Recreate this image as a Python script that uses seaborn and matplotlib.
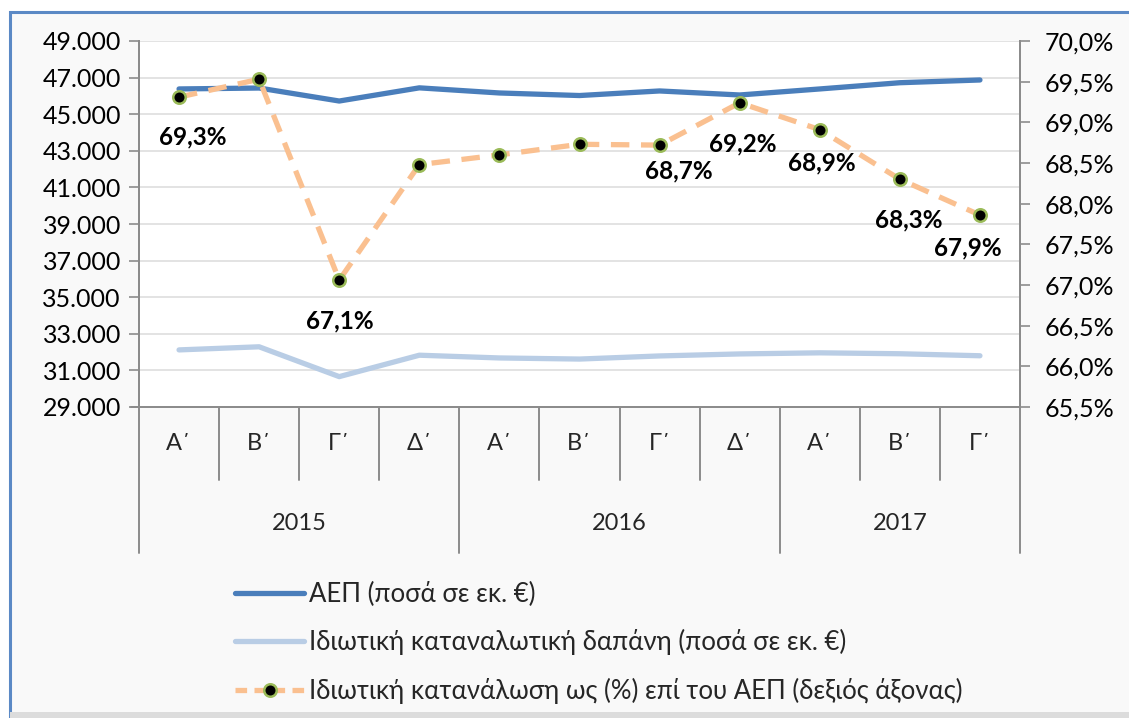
import numpy as np
import pandas as pd
import matplotlib
matplotlib.use("Agg")
import matplotlib.pyplot as plt
import seaborn as sns
from matplotlib.ticker import FuncFormatter, FixedLocator
from matplotlib.patches import Rectangle
from matplotlib.lines import Line2D

# --- data ---
quarters = ["Α΄", "Β΄", "Γ΄", "Δ΄", "Α΄", "Β΄", "Γ΄", "Δ΄", "Α΄", "Β΄", "Γ΄"]
years = ["2015", "2016", "2017"]
year_len = [4, 4, 3]
gdp = [46380, 46430, 45720, 46440, 46160, 46020, 46270, 46050, 46380, 46720, 46870]
consumption = [32120, 32290, 30660, 31830, 31680, 31620, 31790, 31900, 31960, 31910, 31800]
share = [69.31, 69.53, 67.06, 68.48, 68.60, 68.73, 68.72, 69.24, 68.91, 68.30, 67.86]
share_labels = ["69,3%", None, "67,1%", None, None, None, "68,7%", "69,2%", "68,9%", "68,3%", "67,9%"]

left_ticks = list(range(29000, 49001, 2000))
right_ticks = [65.5, 66.0, 66.5, 67.0, 67.5, 68.0, 68.5, 69.0, 69.5, 70.0]

series_names = ["ΑΕΠ (ποσά σε εκ. €)",
                "Ιδιωτική καταναλωτική δαπάνη (ποσά σε εκ. €)",
                "Ιδιωτική κατανάλωση ως (%) επί του ΑΕΠ (δεξιός άξονας)"]

df = pd.DataFrame({"pos": np.arange(len(quarters)), "gdp": gdp,
                   "cons": consumption, "share": share})

sns.set_theme(style="white")
plt.rcParams["font.family"] = ["Lato", "DejaVu Sans"]

C_GDP = "#4a7ebb"
C_CONS = "#b9cde5"
C_SHARE = "#fac090"
C_EDGE = "#9bbb59"
C_AXIS = "#8c8c8c"

W, H = 1129, 718
fig = plt.figure(figsize=(W / 100, H / 100), dpi=100)
fig.patch.set_facecolor("white")

# outer chart frame
fig.patches.append(Rectangle((10 / W, 0.0), 1.1, 1 - 12 / H, transform=fig.transFigure,
                             facecolor="#f9f9f9", edgecolor="#5b89c5", lw=2.2, zorder=-5))
fig.patches.append(Rectangle((10 / W, 0.0), 1.1, 6 / H, transform=fig.transFigure,
                             facecolor="#dcdcdc", edgecolor="none", zorder=-4))

x0, x1, y0, y1 = 139, 1020, 41, 407
ax = fig.add_axes([x0 / W, 1 - y1 / H, (x1 - x0) / W, (y1 - y0) / H])
ax.set_facecolor("white")

sns.lineplot(data=df, x="pos", y="gdp", ax=ax, color=C_GDP, lw=3.8,
             solid_capstyle="round", label=series_names[0], legend=False)
sns.lineplot(data=df, x="pos", y="cons", ax=ax, color=C_CONS, lw=3.8,
             solid_capstyle="round", label=series_names[1], legend=False)

ax.set_xlim(-0.5, len(quarters) - 0.5)
ax.set_ylim(left_ticks[0], left_ticks[-1])
ax.yaxis.set_major_locator(FixedLocator(left_ticks))
ax.yaxis.set_major_formatter(FuncFormatter(lambda v, p: f"{int(v):,}".replace(",", ".")))
ax.grid(axis="y", color="#dedede", lw=1.2)
ax.set_axisbelow(True)
ax.set_xticks([])
ax.set_xlabel("")
ax.set_ylabel("")
ax.tick_params(axis="y", labelsize=18, colors=C_AXIS, labelcolor="black",
               length=7, width=1.2, direction="out", left=True, pad=6)

ax2 = ax.twinx()
sns.lineplot(data=df, x="pos", y="share", ax=ax2, color=C_SHARE, lw=3.8,
             marker="o", markersize=9, markerfacecolor="black", markeredgecolor=C_EDGE,
             markeredgewidth=1.8, label=series_names[2], legend=False)
ax2.lines[0].set_dashes([3.5, 2.2])
ax2.set_ylim(right_ticks[0], right_ticks[-1])
ax2.yaxis.set_major_locator(FixedLocator(right_ticks))
ax2.yaxis.set_major_formatter(FuncFormatter(lambda v, p: f"{v:.1f}%".replace(".", ",")))
ax2.set_ylabel("")
ax2.tick_params(axis="y", labelsize=18, colors=C_AXIS, labelcolor="black",
                length=7, width=1.2, direction="out", right=True, pad=11)

for a in (ax, ax2):
    a.spines["top"].set_visible(False)
    for side in ("left", "right", "bottom"):
        a.spines[side].set_color(C_AXIS)
        a.spines[side].set_linewidth(1.4)

# data labels (offsets in pixels from the marker)
offsets = {0: (14, -40), 2: (1, -41), 6: (19, -26), 7: (3, -41),
           8: (2, -33), 9: (9, -41), 10: (-12, -33)}
for i, lab in enumerate(share_labels):
    if lab:
        dx, dy = offsets[i]
        ax2.annotate(lab, (i, share[i]), xytext=(dx, dy), textcoords="offset pixels",
                     ha="center", va="center", fontsize=17.5, fontweight="bold", color="black")

# category axis: quarters and years
tr = ax.get_xaxis_transform()
yq, yy = -37 / 366, -117 / 366
q_bot, y_bot = -73 / 366, -146 / 366
year_edges = np.cumsum([0] + year_len) - 0.5
for i, q in enumerate(quarters):
    ax.text(i, yq, q, transform=tr, ha="center", va="center", fontsize=17)
for k in range(1, len(quarters)):
    e = k - 0.5
    bottom = y_bot if e in year_edges else q_bot
    ax.plot([e, e], [0, bottom], transform=tr, color=C_AXIS, lw=1.4, clip_on=False)
for e in (year_edges[0], year_edges[-1]):
    ax.plot([e, e], [0, y_bot], transform=tr, color=C_AXIS, lw=1.4, clip_on=False)
ax.plot([-0.5 - 0.1, -0.5], [0, 0], transform=tr, color=C_AXIS, lw=1.4, clip_on=False)
for j, yr in enumerate(years):
    mid = (year_edges[j] + year_edges[j + 1]) / 2
    ax.text(mid, yy, yr, transform=tr, ha="center", va="center", fontsize=17)

# legend
handles = [Line2D([], [], color=C_GDP, lw=3.8),
           Line2D([], [], color=C_CONS, lw=3.8),
           Line2D([], [], color=C_SHARE, lw=3.8, dashes=[2.2, 1.4], marker="o", markersize=9,
                  markerfacecolor="black", markeredgecolor=C_EDGE, markeredgewidth=1.8)]
fig.legend(handles, series_names, loc="upper left", bbox_to_anchor=(222 / W, 1 - 569 / H),
           frameon=False, fontsize=18.5, handlelength=2.7, handletextpad=0.2,
           labelspacing=0.87, borderpad=0)

fig.savefig("out.png", dpi=100, facecolor=fig.get_facecolor())
